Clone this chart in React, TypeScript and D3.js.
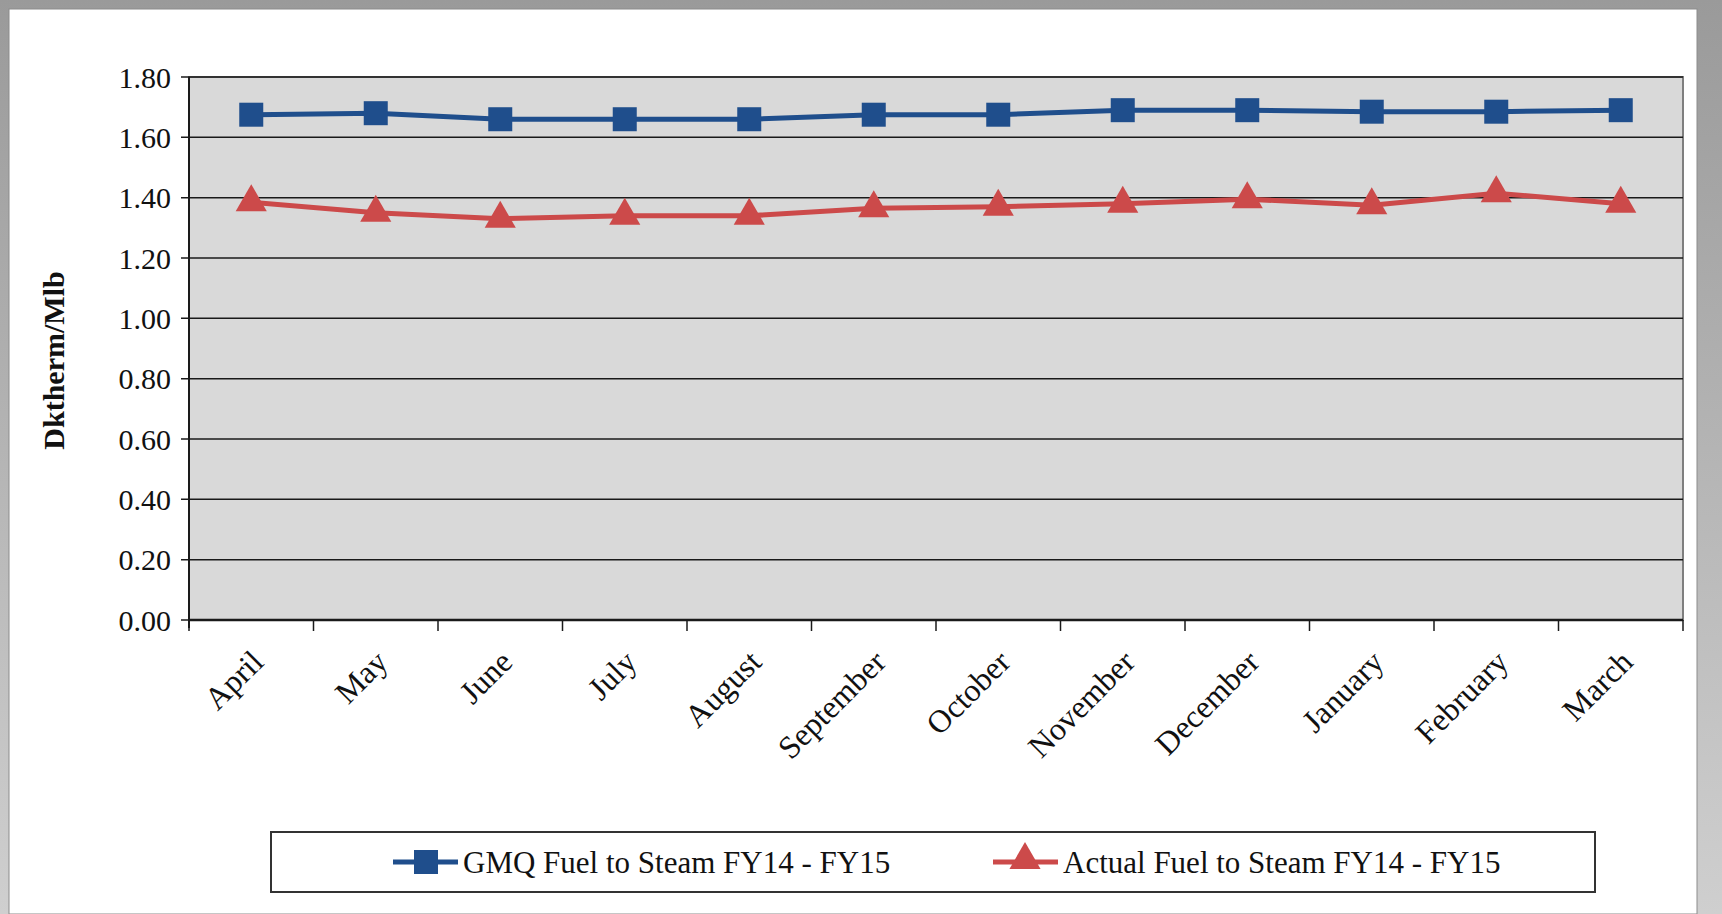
import * as d3 from 'd3'

const months = ['April', 'May', 'June', 'July', 'August', 'September', 'October', 'November', 'December', 'January', 'February', 'March']
const gmq = [1.675, 1.68, 1.66, 1.66, 1.66, 1.675, 1.675, 1.69, 1.69, 1.685, 1.685, 1.69]
const actual = [1.385, 1.35, 1.33, 1.34, 1.34, 1.365, 1.37, 1.38, 1.395, 1.375, 1.415, 1.38]
const yTicks = [0, 0.2, 0.4, 0.6, 0.8, 1.0, 1.2, 1.4, 1.6, 1.8]

const W = 1722
const H = 914
const left = 189
const right = 1683
const top = 77
const bottom = 620
const font = '"Liberation Serif", "Times New Roman", serif'
const blue = '#1f4e8c'
const red = '#cc4a4a'

const App = () => {
  const x = d3.scaleBand<string>().domain(months).range([left, right])
  const y = d3.scaleLinear().domain([0, 1.8]).range([bottom, top])
  const cx = (i: number) => (x(months[i]) ?? 0) + x.bandwidth() / 2
  const line = d3.line<number>().x((_, i) => cx(i)).y((d) => y(d))
  const tri = d3.symbol(d3.symbolTriangle, 420)()

  return (
    <svg width={W} height={H} style={{ position: 'absolute', left: 0, top: 0, fontFamily: font }}>
      <defs>
        <linearGradient id="frame" x1="0" y1="0" x2="0" y2="1">
          <stop offset="0" stopColor="#9a9a9a" />
          <stop offset="1" stopColor="#cfcfcf" />
        </linearGradient>
      </defs>
      <rect width={W} height={H} fill="url(#frame)" />
      <rect x={9} y={9} width={1688} height={H - 9} fill="#fff" stroke="#8c8c8c" />
      <rect x={left} y={top} width={right - left} height={bottom - top} fill="#d9d9d9" stroke="#7f7f7f" strokeWidth={2} />
      {yTicks.map((t) => (
        <g key={t}>
          <line x1={left - 8} x2={right} y1={y(t)} y2={y(t)} stroke="#1a1a1a" strokeWidth={1.5} />
          <text x={left - 18} y={y(t)} dy="0.35em" textAnchor="end" fontSize={30} fill="#111">
            {t.toFixed(2)}
          </text>
        </g>
      ))}
      <line x1={left} x2={left} y1={top} y2={bottom + 8} stroke="#1a1a1a" strokeWidth={2} />
      <line x1={left} x2={right} y1={bottom} y2={bottom} stroke="#1a1a1a" strokeWidth={2.5} />
      {months.map((m) => (
        <line key={m} x1={x(m)} x2={x(m)} y1={bottom} y2={bottom + 11} stroke="#1a1a1a" strokeWidth={1.5} />
      ))}
      <line x1={right} x2={right} y1={bottom} y2={bottom + 11} stroke="#1a1a1a" strokeWidth={1.5} />
      {months.map((m, i) => (
        <text
          key={m}
          transform={`translate(${cx(i) + 6},${bottom + 36}) rotate(-45)`}
          textAnchor="end"
          dy="0.35em"
          fontSize={32}
          fill="#111"
        >
          {m}
        </text>
      ))}
      <text
        transform={`translate(53,${(top + bottom) / 2 + 12}) rotate(-90)`}
        textAnchor="middle"
        dy="0.35em"
        fontSize={30}
        fontWeight="bold"
        fill="#111"
      >
        Dktherm/Mlb
      </text>
      <path d={line(gmq) ?? ''} fill="none" stroke={blue} strokeWidth={5} />
      {gmq.map((v, i) => (
        <rect key={i} x={cx(i) - 12} y={y(v) - 12} width={24} height={24} fill={blue} />
      ))}
      <path d={line(actual) ?? ''} fill="none" stroke={red} strokeWidth={5} />
      {actual.map((v, i) => (
        <path key={i} d={tri ?? ''} transform={`translate(${cx(i)},${y(v)})`} fill={red} />
      ))}
      <rect x={271} y={832} width={1324} height={60} fill="#fff" stroke="#333" strokeWidth={2} />
      <line x1={393} x2={458} y1={862} y2={862} stroke={blue} strokeWidth={5} />
      <rect x={414} y={850} width={24} height={24} fill={blue} />
      <text x={463} y={862} dy="0.35em" fontSize={31} fill="#111">GMQ Fuel to Steam FY14 - FY15</text>
      <line x1={993} x2={1058} y1={862} y2={862} stroke={red} strokeWidth={5} />
      <path d={tri ?? ''} transform="translate(1025,860)" fill={red} />
      <text x={1063} y={862} dy="0.35em" fontSize={31} fill="#111">Actual Fuel to Steam FY14 - FY15</text>
    </svg>
  )
}

export default App
